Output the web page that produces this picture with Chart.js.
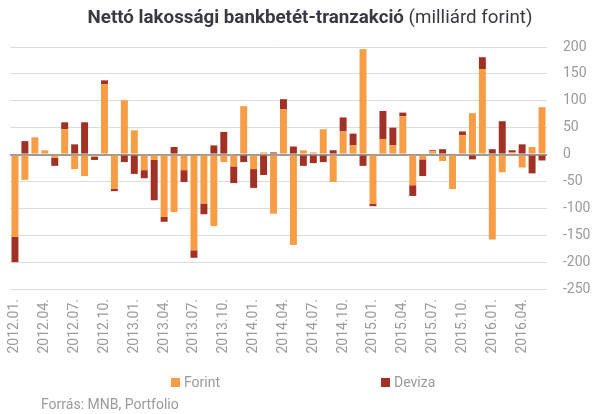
<!DOCTYPE html>
<html>
<head>
<meta charset="utf-8">
<script src="https://cdn.jsdelivr.net/npm/chart.js@4"></script>
<style>
  body { margin: 0; background: #fff; font-family: Roboto, sans-serif; }
  #wrap { position: relative; width: 605px; height: 414px; }
  #title { position: absolute; left: 0; width: 620px; top: 6px; text-align: center; font-size: 18.75px; color: #383a40; white-space: nowrap; }
  #title b { font-weight: 700; }
  .leg { position: absolute; top: 374px; font-size: 14px; color: #9a9a9a; line-height: 16px; }
  .leg i { display: inline-block; width: 9px; height: 9px; margin-right: 4px; vertical-align: 0px; }
  #source { position: absolute; left: 41px; top: 396px; font-size: 14px; color: #9a9a9a; line-height: 16px; }
</style>
</head>
<body>
<div id="wrap">
  <canvas id="chart"></canvas>
  <div id="title"><b>Nettó lakossági bankbetét-tranzakció</b> (milliárd forint)</div>
  <div class="leg" style="left:171px"><i style="background:#F79D46"></i>Forint</div>
  <div class="leg" style="left:381px"><i style="background:#A23125"></i>Deviza</div>
  <div id="source">Forrás: MNB, Portfolio</div>
</div>
<script>
// Months 2012.01. - 2016.06.
const months = [
  "2012.01.", "2012.02.", "2012.03.", "2012.04.", "2012.05.", "2012.06.",
  "2012.07.", "2012.08.", "2012.09.", "2012.10.", "2012.11.", "2012.12.",
  "2013.01.", "2013.02.", "2013.03.", "2013.04.", "2013.05.", "2013.06.",
  "2013.07.", "2013.08.", "2013.09.", "2013.10.", "2013.11.", "2013.12.",
  "2014.01.", "2014.02.", "2014.03.", "2014.04.", "2014.05.", "2014.06.",
  "2014.07.", "2014.08.", "2014.09.", "2014.10.", "2014.11.", "2014.12.",
  "2015.01.", "2015.02.", "2015.03.", "2015.04.", "2015.05.", "2015.06.",
  "2015.07.", "2015.08.", "2015.09.", "2015.10.", "2015.11.", "2015.12.",
  "2016.01.", "2016.02.", "2016.03.", "2016.04.", "2016.05.", "2016.06."
];

const forint = [
  -153, -47, 32, 8, -6, 47, -27, -40, -4, 131, -64, 101,
  45, -29, -10, -116, -107, -29, -178, -91, -133, -14, -22, 90,
  -27, 4, -110, 84, -168, 8, 4, 47, -51, 43, 17, 196,
  -92, 29, 17, 71, -57, -9, 6, -12, -64, 36, 77, 159,
  -158, -33, 4, -24, 14, 88
];

const deviza = [
  -47, 25, 0, 0, -15, 13, 19, 60, -6, 7, -4, -14,
  -36, -15, -75, -9, 14, -22, -14, -20, 17, 42, -31, -14,
  -35, -38, 4, 19, 15, -21, -16, -14, 8, 26, 22, -21,
  -4, 52, 33, 7, -20, -31, 2, 10, 2, 7, -9, 22,
  10, 62, 4, 19, -35, -11
];

const yMin = -250;
const yMax = 200;
const yStep = 50;

const tickFont = { family: "Roboto", size: 14 };
const tickColor = "#9a9a9a";

new Chart(document.getElementById("chart"), {
  type: "bar",
  data: {
    labels: months,
    datasets: [
      { label: "Forint", data: forint, backgroundColor: "#F79D46" },
      { label: "Deviza", data: deviza, backgroundColor: "#A23125" }
    ]
  },
  options: {
    responsive: true,
    maintainAspectRatio: false,
    animation: false,
    layout: { padding: { left: 10, right: 0, top: 47, bottom: 50 } },
    datasets: { bar: { categoryPercentage: 1, barPercentage: 0.7 } },
    plugins: {
      legend: { display: false },
      tooltip: { enabled: false }
    },
    scales: {
      x: {
        stacked: true,
        grid: { display: false, drawTicks: false },
        border: { display: false },
        ticks: {
          autoSkip: false,
          minRotation: 90,
          maxRotation: 90,
          padding: 10,
          font: tickFont,
          color: tickColor,
          callback: (value, index) => (index % 3 === 0 ? months[index] : "")
        },
        afterFit: (scale) => { scale.height = 75; }
      },
      y: {
        stacked: true,
        position: "right",
        min: yMin,
        max: yMax,
        grid: {
          drawTicks: false,
          color: (ctx) => (ctx.tick && ctx.tick.value === 0 ? "#9c9c9c" : "#dcdcdc"),
          lineWidth: (ctx) => (ctx.tick && ctx.tick.value === 0 ? 2 : 1)
        },
        border: { display: false },
        ticks: {
          stepSize: yStep,
          padding: 16,
          font: tickFont,
          color: tickColor
        },
        afterFit: (scale) => { scale.width = 58; }
      }
    }
  }
});
</script>
</body>
</html>
